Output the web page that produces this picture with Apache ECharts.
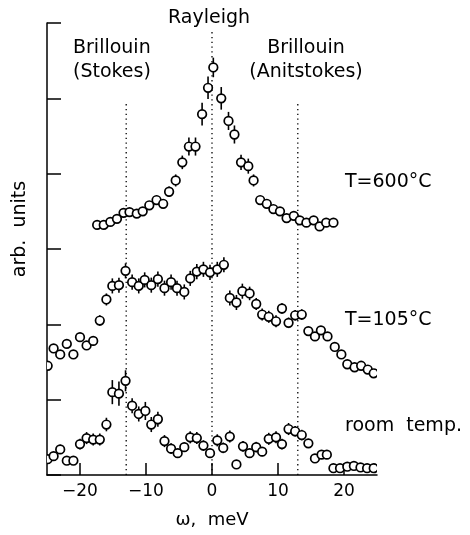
<!DOCTYPE html>
<html>
<head>
<meta charset="utf-8">
<script src="https://cdn.jsdelivr.net/npm/echarts@6/dist/echarts.min.js"></script>
<style>html,body{margin:0;padding:0;background:#fff}#c{width:470px;height:535px}</style>
</head>
<body>
<div id="c"></div>
<script>
// ---- data ----
const xTicks = [-20, -10, 0, 10, 20];
const refLineX = [-13, 0, 13];
const refLineTop = [4.93, 5.9, 4.93];

const t600X = [-17.4,-16.4,-15.4,-14.4,-13.4,-12.5,-11.4,-10.5,-9.5,-8.4,-7.4,-6.5,-5.5,-4.5,-3.5,-2.5,-1.5,-0.6,0.2,1.4,2.5,3.4,4.4,5.5,6.3,7.3,8.3,9.3,10.3,11.3,12.4,13.3,14.3,15.4,16.3,17.3,18.4];
const t600Y = [3.32,3.32,3.36,3.40,3.48,3.49,3.47,3.50,3.58,3.65,3.60,3.76,3.91,4.15,4.36,4.36,4.79,5.14,5.41,5.00,4.70,4.52,4.15,4.10,3.91,3.65,3.60,3.53,3.50,3.41,3.44,3.38,3.35,3.38,3.30,3.35,3.35];
const t600E = [0.03,0.03,0.03,0.03,0.04,0.04,0.04,0.04,0.05,0.06,0.06,0.07,0.08,0.09,0.12,0.12,0.15,0.15,0.13,0.15,0.12,0.12,0.1,0.1,0.08,0.05,0.05,0.04,0.04,0.04,0.04,0.04,0.03,0.03,0.03,0.03,0.03];

const t105X = [-24.9,-24.0,-23.0,-22.0,-21.0,-20.0,-19.0,-18.0,-17.0,-16.0,-15.1,-14.1,-13.1,-12.1,-11.1,-10.2,-9.2,-8.2,-7.2,-6.2,-5.3,-4.2,-3.3,-2.3,-1.3,-0.3,0.8,1.8,2.7,3.7,4.6,5.7,6.7,7.6,8.6,9.7,10.6,11.6,12.6,13.6,14.6,15.6,16.5,17.5,18.6,19.6,20.5,21.6,22.6,23.6,24.5];
const t105Y = [1.45,1.68,1.60,1.74,1.60,1.83,1.72,1.78,2.05,2.33,2.51,2.52,2.71,2.56,2.51,2.59,2.52,2.60,2.48,2.56,2.48,2.43,2.61,2.70,2.73,2.69,2.73,2.79,2.35,2.29,2.44,2.41,2.27,2.13,2.10,2.04,2.21,2.02,2.12,2.13,1.91,1.84,1.92,1.84,1.70,1.60,1.47,1.43,1.45,1.40,1.35];
const t105E = [0.05,0.05,0.05,0.05,0.05,0.05,0.05,0.06,0.07,0.08,0.1,0.1,0.1,0.1,0.1,0.1,0.1,0.1,0.1,0.1,0.1,0.1,0.1,0.1,0.1,0.1,0.1,0.1,0.1,0.1,0.1,0.09,0.08,0.08,0.08,0.08,0.07,0.07,0.07,0.07,0.05,0.05,0.05,0.04,0.04,0.04,0.04,0.04,0.04,0.04,0.04];

const roomX = [-24.9,-24.0,-23.0,-22.0,-21.0,-20.0,-19.0,-18.0,-17.0,-16.0,-15.1,-14.1,-13.1,-12.1,-11.1,-10.1,-9.2,-8.2,-7.2,-6.2,-5.2,-4.2,-3.3,-2.3,-1.3,-0.3,0.8,1.7,2.7,3.7,4.7,5.7,6.7,7.6,8.6,9.7,10.6,11.6,12.6,13.6,14.6,15.6,16.6,17.4,18.4,19.4,20.5,21.5,22.5,23.5,24.5];
const roomY = [0.21,0.25,0.34,0.19,0.19,0.41,0.49,0.47,0.47,0.67,1.10,1.08,1.25,0.92,0.81,0.85,0.67,0.74,0.45,0.35,0.29,0.37,0.50,0.49,0.39,0.29,0.46,0.36,0.51,0.14,0.38,0.29,0.37,0.31,0.48,0.50,0.41,0.61,0.58,0.53,0.42,0.22,0.27,0.27,0.09,0.09,0.11,0.12,0.10,0.09,0.09];
const roomE = [0.05,0.05,0.06,0.05,0.05,0.07,0.08,0.08,0.08,0.09,0.16,0.16,0.14,0.1,0.1,0.12,0.1,0.1,0.08,0.07,0.06,0.06,0.08,0.08,0.07,0.06,0.08,0.07,0.08,0.03,0.07,0.06,0.07,0.06,0.08,0.08,0.07,0.08,0.07,0.07,0.06,0.04,0.04,0.04,0.03,0.03,0.03,0.03,0.03,0.03,0.03];

const FONT = '"DejaVu Sans", sans-serif';

function zip(xs, ys, es) { return xs.map((x, i) => [x, ys[i], es[i]]); }

function renderItem(params, api) {
  const x = api.value(0), y = api.value(1), e = api.value(2);
  const c = api.coord([x, y]);
  const t = api.coord([x, y + e]);
  const b = api.coord([x, y - e]);
  return {
    type: 'group',
    children: [
      { type: 'line', shape: { x1: c[0], y1: t[1], x2: c[0], y2: b[1] }, style: { stroke: '#000', lineWidth: 1.6 } },
      { type: 'circle', shape: { cx: c[0], cy: c[1], r: 4.3 }, style: { fill: '#fff', stroke: '#000', lineWidth: 1.7 } }
    ]
  };
}

const chart = echarts.init(document.getElementById('c'), null, { renderer: 'canvas' });

const series = [];
refLineX.forEach((x, i) => {
  series.push({
    type: 'line', data: [[x, 0], [x, refLineTop[i]]], symbol: 'none', silent: true,
    lineStyle: { color: '#000', width: 1.3, type: [1.3, 3.5] }, z: 1
  });
});
[[t600X, t600Y, t600E], [t105X, t105Y, t105E], [roomX, roomY, roomE]].forEach(d => {
  series.push({ type: 'custom', renderItem: renderItem, data: zip(d[0], d[1], d[2]), clip: true, z: 3 });
});

const ann = (text, x, y, align) => ({
  type: 'text', x: x, y: y, silent: true,
  style: { text: text, font: '19px ' + FONT, fill: '#000', textAlign: align || 'center', textVerticalAlign: 'middle' }
});

chart.setOption({
  animation: false,
  backgroundColor: '#fff',
  grid: { left: 47, right: 93, top: 23, bottom: 60, containLabel: false },
  xAxis: {
    type: 'value', min: -25, max: 25,
    name: 'ω,  meV', nameLocation: 'middle', nameGap: 36,
    nameTextStyle: { fontFamily: FONT, fontSize: 18, color: '#000' },
    axisLine: { onZero: false, lineStyle: { color: '#000', width: 1.5 } },
    axisTick: { inside: true, length: 12, customValues: xTicks, lineStyle: { color: '#000', width: 1.5 } },
    axisLabel: {
      customValues: xTicks, margin: 8, fontFamily: FONT, fontSize: 17, color: '#000',
      formatter: v => (v < 0 ? '\u2212' + Math.abs(v) : String(v))
    },
    splitLine: { show: false }
  },
  yAxis: {
    type: 'value', min: 0, max: 6, interval: 1,
    axisLine: { show: true, onZero: false, lineStyle: { color: '#000', width: 1.5 } },
    axisTick: { show: true, inside: true, length: 14, lineStyle: { color: '#000', width: 1.5 } },
    axisLabel: { show: false },
    splitLine: { show: false }
  },
  graphic: [
    ann('Rayleigh', 209, 18),
    ann('Brillouin', 73, 48, 'left'),
    ann('(Stokes)', 73, 72, 'left'),
    ann('Brillouin', 306, 48),
    ann('(Anitstokes)', 306, 72),
    ann('T=600°C', 345, 182, 'left'),
    ann('T=105°C', 345, 320, 'left'),
    ann('room  temp.', 345, 426, 'left'),
    { type: 'text', x: 20, y: 229, rotation: Math.PI / 2, silent: true,
      style: { text: 'arb.  units', font: '19px ' + FONT, fill: '#000', textAlign: 'center', textVerticalAlign: 'middle' } }
  ],
  series: series
});
</script>
</body>
</html>
